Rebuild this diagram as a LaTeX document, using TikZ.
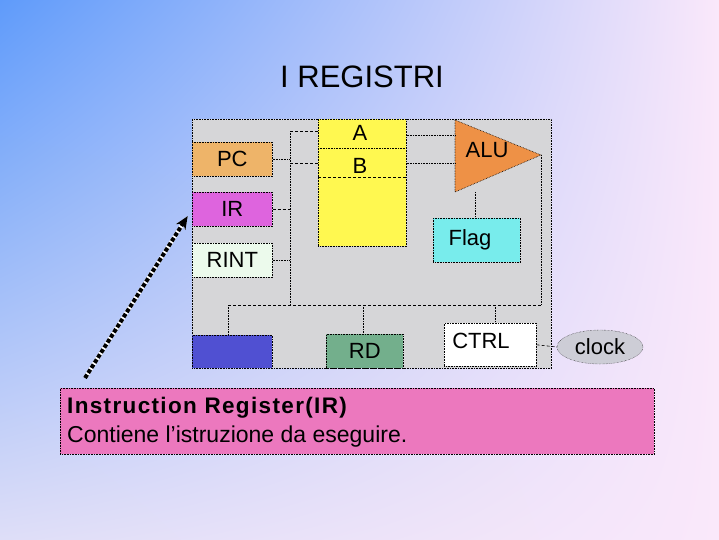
\documentclass[tikz,border=0pt]{standalone}
\usepackage{fontspec}
\setmainfont{Liberation Sans}
\usetikzlibrary{positioning, arrows.meta, shapes, shadings}

\definecolor{bgblue}{RGB}{95,155,250}
\definecolor{bgpink}{RGB}{250,232,250}
\definecolor{bglav}{RGB}{222,222,248}
\definecolor{cpugray}{RGB}{214,214,216}
\definecolor{pcorange}{RGB}{238,180,105}
\definecolor{irmagenta}{RGB}{222,100,222}
\definecolor{rintgreen}{RGB}{236,250,236}
\definecolor{dblue}{RGB}{80,80,210}
\definecolor{abyellow}{RGB}{255,248,80}
\definecolor{aluorange}{RGB}{238,145,70}
\definecolor{flagcyan}{RGB}{120,236,236}
\definecolor{rdgreen}{RGB}{115,175,140}
\definecolor{clockgray}{RGB}{205,205,214}
\definecolor{notepink}{RGB}{236,120,190}

\tikzset{
  reg/.style={draw=black, densely dotted, line width=0.6pt, inner sep=0pt,
    anchor=north west, font=\fontsize{22}{26}\selectfont},
  lbl/.style={font=\fontsize{22}{26}\selectfont},
  bus/.style={densely dashed, line width=0.6pt},
  wire/.style={densely dotted, line width=0.6pt},
}

\begin{document}
\begin{tikzpicture}[x=1pt, y=-1pt]

    \useasboundingbox (0,0) rectangle (719,539);
    \shade[upper left=bgblue, lower left=bglav, upper right=bgpink, lower right=bgpink]
        (0,0) rectangle (719,539);

    \node[font=\fontsize{31}{36}\selectfont] (title) at (362,77) {I REGISTRI};

    % blocco dei registri
    \node[reg, fill=cpugray, minimum width=359pt, minimum height=249pt] (cpu) at (192,119) {};
    \node[reg, fill=pcorange, minimum width=80pt, minimum height=34pt] (pc) at (192,142) {PC};
    \node[reg, fill=irmagenta, minimum width=80pt, minimum height=34pt] (ir) at (192,192) {IR};
    \node[reg, fill=rintgreen, minimum width=80pt, minimum height=34pt] (rint) at (192,243) {RINT};
    \node[reg, fill=dblue, minimum width=80pt, minimum height=33pt] (bl) at (192,335) {};

    \node[reg, fill=abyellow, minimum width=88pt, minimum height=127pt] (ab) at (318,119) {};
    \node[lbl] (a) at (360,133) {A};
    \node[lbl] (b) at (360,166) {B};
    \draw[wire] (ab.west |- 0,148) -- (ab.east |- 0,148);
    \draw[bus] (ab.west |- 0,177) -- (ab.east |- 0,177);

    \coordinate (alutl) at (455,120);
    \coordinate (alubl) at (455,192);
    \coordinate (alutip) at (541,155);
    \filldraw[wire, fill=aluorange] (alutl) -- (alutip) -- (alubl) -- cycle;
    \node[lbl] (alu) at (487,150) {ALU};

    \node[reg, fill=flagcyan, minimum width=87pt, minimum height=44pt] (flag) at (433,218) {};
    \node[lbl] at (470,240) {Flag};
    \node[reg, fill=white, minimum width=92pt, minimum height=43pt] (ctrl) at (444,323) {};
    \node[lbl] at (481,341) {CTRL};
    \node[reg, fill=rdgreen, minimum width=77pt, minimum height=34pt] (rd) at (326,334) {RD};
    \node[lbl, draw=black, densely dotted, ellipse, fill=clockgray, minimum width=86pt,
        minimum height=34pt, inner sep=0pt] (clock) at (600,347) {clock};

    % collegamenti
    \coordinate (bt) at (290,131);
    \coordinate (bb) at (290,305);
    \coordinate (hl) at (228,305);
    \coordinate (hr) at (541,305);
    \draw[wire] (bt) -- (bb);
    \draw[bus] (hl) -- (hr);
    \draw[bus] (bt) -- (bt -| ab.west);
    \draw[bus] (290,163) -- (ab.west |- 0,163);
    \draw[wire] (pc.east) -- (pc.east -| bt);
    \draw[bus] (ir.east) -- (ir.east -| bt);
    \draw[wire] (rint.east) -- (rint.east -| bt);
    \draw[wire] (ab.east |- 0,135) -- (alutl |- 0,135);
    \draw[wire] (ab.east |- 0,163) -- (alutl |- 0,163);
    \draw[wire] (alutip) -- (hr);
    \draw[wire] (475,192) -- (flag.north -| 475,0);
    \draw[wire] (hl) -- (hl |- bl.north);
    \draw[wire] (363,305) -- (rd.north -| 363,0);
    \draw[wire] (495,305) -- (ctrl.north -| 495,0);
    \draw[bus] (ctrl.east) -- (clock.west);

    % nota
    \node[reg, fill=notepink, minimum width=594pt, minimum height=66pt] (note) at (60,388) {};
    \node[anchor=west, inner sep=0pt, font=\fontsize{22.5}{26}\selectfont\bfseries\addfontfeature{LetterSpace=6}]
        (notetitle) at (67,408) {Instruction Register(IR)};
    \node[anchor=west, inner sep=0pt, font=\fontsize{23}{27}\selectfont]
        (notetext) at (67,437) {Contiene l'istruzione da eseguire.};

    \coordinate (tail) at (85,378);
    \draw[line width=4pt, white, shorten >=8pt, -{Stealth[length=13pt, width=11pt]}] (tail) -- (ir.west);
    \draw[line width=4pt, black, dotted, shorten >=8pt, -{Stealth[length=13pt, width=11pt, open]}] (tail) -- (ir.west);

\end{tikzpicture}
\end{document}
